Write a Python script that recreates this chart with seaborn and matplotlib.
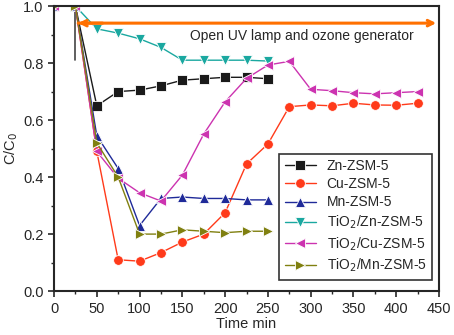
import seaborn as sns
import matplotlib.pyplot as plt
import pandas as pd

# time points (min)
t_short = [0, 25, 50, 75, 100, 125, 150, 175, 200, 225, 250]
t_long = [0, 25, 50, 75, 100, 125, 150, 175, 200, 225, 250, 275, 300, 325, 350, 375, 400, 425]

zn = [1.0, 1.0, 0.65, 0.70, 0.705, 0.72, 0.74, 0.745, 0.75, 0.75, 0.745]
cu = [1.0, 1.0, 0.49, 0.11, 0.105, 0.135, 0.172, 0.20, 0.275, 0.446, 0.516,
      0.647, 0.653, 0.65, 0.659, 0.653, 0.652, 0.659]
mn = [1.0, 1.0, 0.545, 0.43, 0.23, 0.325, 0.33, 0.325, 0.325, 0.32, 0.32]
tio2_zn = [1.0, 1.0, 0.92, 0.905, 0.885, 0.855, 0.81, 0.81, 0.81, 0.81, 0.807]
tio2_cu = [1.0, 1.0, 0.49, 0.396, 0.345, 0.316, 0.407, 0.551, 0.664, 0.746, 0.793,
           0.806, 0.708, 0.703, 0.696, 0.692, 0.696, 0.70]
tio2_mn = [1.0, 1.0, 0.52, 0.40, 0.20, 0.20, 0.215, 0.21, 0.205, 0.21, 0.21]

names = ['Zn-ZSM-5', 'Cu-ZSM-5', 'Mn-ZSM-5',
         'TiO$_2$/Zn-ZSM-5', 'TiO$_2$/Cu-ZSM-5', 'TiO$_2$/Mn-ZSM-5']
series = [(t_short, zn), (t_long, cu), (t_short, mn),
          (t_short, tio2_zn), (t_long, tio2_cu), (t_short, tio2_mn)]
colors = ['#1a1a1a', '#ff3a1a', '#1f2a99', '#1aa8a0', '#cc33b0', '#808010']
markers = ['s', 'o', '^', 'v', '<', '>']

rows = []
for name, (t, v) in zip(names, series):
    for ti, vi in zip(t, v):
        rows.append({'time': ti, 'cc0': vi, 'sample': name})
df = pd.DataFrame(rows)

sns.set_style('ticks')
plt.rcParams['font.family'] = ['Liberation Sans', 'DejaVu Sans']

fig, ax = plt.subplots(figsize=(4.54, 3.35), dpi=100)
fig.subplots_adjust(left=0.119, right=0.967, top=0.982, bottom=0.131)

sns.lineplot(data=df, x='time', y='cc0', hue='sample', style='sample',
             hue_order=names, style_order=names, palette=colors,
             markers=markers, dashes=False, markersize=7, linewidth=1.0,
             markeredgewidth=0.6, ax=ax)

# UV lamp / ozone generator marker
ax.plot([25, 25], [1.0, 0.81], color='#444444', lw=1.2, zorder=1)
ax.annotate('', xy=(450, 0.94), xytext=(25, 0.94),
            arrowprops=dict(arrowstyle='->', color='#ff7000', lw=2.2))
ax.annotate('', xy=(25, 0.94), xytext=(60, 0.94),
            arrowprops=dict(arrowstyle='->', color='#ff7000', lw=2.2))
ax.text(159, 0.88, 'Open UV lamp and ozone generator', fontsize=10)

ax.set_xlim(0, 450)
ax.set_ylim(0, 1.0)
ax.set_xticks(range(0, 451, 50))
ax.set_xticks(range(25, 451, 50), minor=True)
ax.set_yticks([0.0, 0.2, 0.4, 0.6, 0.8, 1.0])
ax.set_yticks([0.1, 0.3, 0.5, 0.7, 0.9], minor=True)
ax.set_yticklabels(['0.0', '0.2', '0.4', '0.6', '0.8', '1.0'])
ax.tick_params(which='major', length=4, width=1.2, labelsize=10.5)
ax.tick_params(which='minor', length=2.5, width=1.0)
for s in ax.spines.values():
    s.set_linewidth(1.5)

ax.set_xlabel('Time min', fontsize=10.5, labelpad=1)
ax.set_ylabel('C/C$_0$', fontsize=10.5, labelpad=2)

leg = ax.legend(loc='lower right', bbox_to_anchor=(0.982, 0.04), borderaxespad=0,
                fontsize=10, frameon=True, fancybox=False, edgecolor='black',
                handlelength=2.2, borderpad=0.4, labelspacing=0.3)
leg.get_frame().set_linewidth(1.2)

plt.savefig('out.png', dpi=100)
